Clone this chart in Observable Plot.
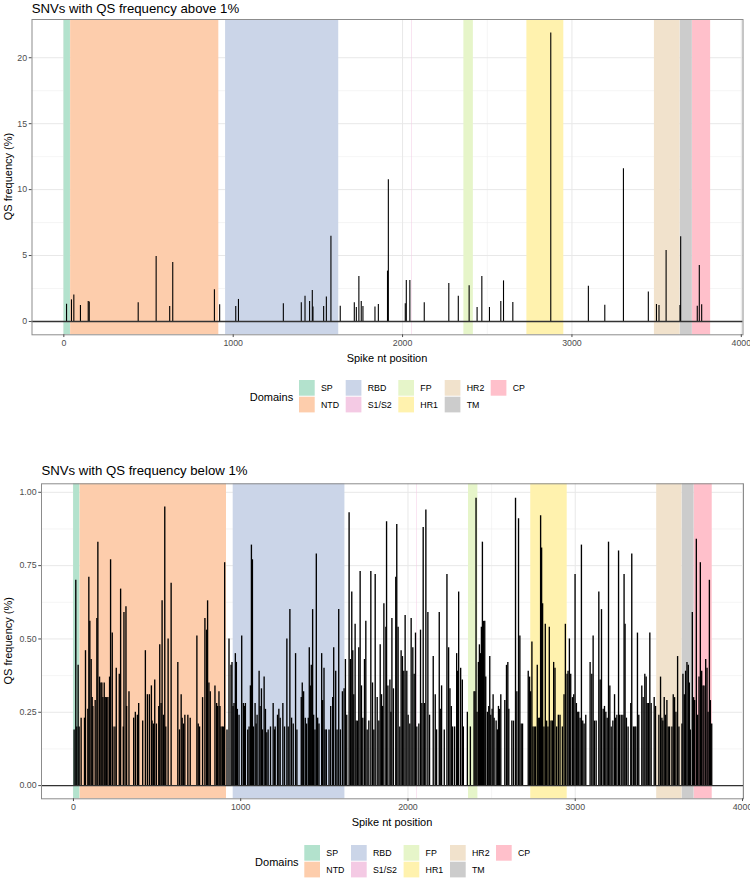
<!DOCTYPE html>
<html><head><meta charset="utf-8">
<script src="https://cdn.jsdelivr.net/npm/d3@7"></script>
<script src="https://cdn.jsdelivr.net/npm/@observablehq/plot@0.6"></script>
<style>
body{margin:0;background:#fff;}
#wrap{position:relative;width:750px;height:879px;background:#fff;overflow:hidden;}
#wrap > svg{position:absolute;left:0;margin:0;}
</style></head><body><div id="wrap"></div>
<script>
// ---------- DATA ----------
const domainNames  = ["SP", "NTD", "RBD", "S1/S2", "FP", "HR1", "HR2", "TM", "CP"];
const domainStart  = [1, 40, 955, 2054, 2362, 2734, 3487, 3640, 3712];
const domainEnd    = [39, 915, 1623, 2057, 2418, 2952, 3639, 3711, 3819];
const domainColors = ["#B3E2CD", "#FDCDAC", "#CBD5E8", "#F4CAE4", "#E6F5C9", "#FFF2AE", "#F1E2CC", "#CCCCCC", "#FFC0CB"];

const xTickValues = [0, 1000, 2000, 3000, 4000];
const xMinorValues = [500, 1500, 2500, 3500];
const yTicksAbove = [0, 5, 10, 15, 20];
const yMinorAbove = [2.5, 7.5, 12.5, 17.5];
const yTicksBelow = [0, 0.25, 0.5, 0.75, 1.0];
const yMinorBelow = [0.125, 0.375, 0.625, 0.875];

// SNVs above 1%
const highPos = [16,45,59,98,144,150,439,545,625,643,
  889,920,1015,1031,1296,1402,1424,1451,1467,1471,
  1534,1550,1577,1632,1715,1727,1742,1756,1766,1837,
  1857,1911,1916,2016,2022,2043,2128,2273,2329,2393,
  2440,2468,2513,2580,2596,2651,2875,3097,3194,3304,
  3451,3499,3514,3556,3638,3642,3740,3752,3766];
const highFreq = [1.31,1.64,2.0,1.21,1.52,1.47,1.42,4.93,1.14,4.48,
  2.40,1.26,1.14,1.67,1.34,1.42,1.92,1.52,2.35,1.09,
  1.14,1.85,6.47,1.16,1.42,1.06,3.41,1.52,1.14,1.09,
  1.29,3.82,10.75,1.34,3.11,3.11,1.42,2.88,1.92,2.71,
  1.06,3.41,1.06,1.52,3.08,1.44,21.87,2.68,1.24,11.58,
  2.23,1.29,1.21,5.39,1.21,6.42,1.16,4.25,1.26];

// SNVs below 1%
const lowPos = [
4,14,20,28,34,46,66,72,86,92,
98,106,112,116,130,140,146,156,164,170,
176,184,190,198,206,216,222,232,236,248,
256,274,282,298,302,314,318,332,360,370,
382,390,414,430,442,454,466,470,478,486,
496,510,516,524,530,538,546,552,566,584,
624,634,644,650,658,666,684,698,738,746,
754,772,786,796,802,810,818,846,856,862,
870,876,882,890,896,904,918,930,942,948,
954,960,968,974,980,990,1006,1016,1022,1028,
1042,1050,1058,1064,1070,1076,1086,1092,1098,1110,
1116,1124,1130,1140,1148,1156,1164,1178,1194,1202,
1206,1220,1228,1236,1252,1262,1276,1284,1294,1304,
1314,1328,1336,1362,1368,1376,1386,1394,1404,1410,
1416,1422,1430,1436,1444,1452,1460,1468,1484,1490,
1498,1504,1512,1528,1538,1550,1556,1568,1576,1586,
1596,1608,1618,1626,1634,1648,1656,1664,1670,1676,
1684,1690,1698,1706,1714,1722,1730,1740,1748,1756,
1766,1778,1788,1796,1804,1816,1826,1834,1842,1848,
1856,1868,1872,1880,1892,1898,1904,1913,1927,1933,
1941,1951,1959,1967,1975,1983,1993,2001,2011,2019,
2029,2037,2045,2053,2065,2075,2083,2091,2099,2107,
2119,2129,2151,2163,2171,2187,2193,2201,2217,2233,
2243,2251,2259,2267,2279,2291,2297,2303,2315,2325,
2331,2355,2373,2395,2401,2407,2413,2421,2427,2433,
2439,2445,2451,2459,2465,2475,2483,2489,2495,2503,
2509,2515,2527,2535,2541,2547,2555,2579,2589,2597,
2603,2621,2631,2643,2651,2661,2669,2677,2685,2719,
2727,2733,2741,2747,2755,2763,2773,2779,2787,2793,
2799,2805,2813,2821,2829,2837,2845,2855,2863,2871,
2879,2889,2899,2909,2923,2933,2941,2951,2957,2965,
2973,2983,2991,2999,3007,3015,3021,3029,3037,3045,
3053,3063,3089,3099,3107,3115,3125,3141,3149,3157,
3167,3175,3183,3191,3199,3207,3215,3225,3235,3241,
3249,3259,3265,3275,3285,3292,3298,3306,3316,3332,
3338,3348,3356,3362,3372,3380,3398,3406,3416,3424,
3430,3438,3446,3454,3472,3480,3500,3510,3518,3524,
3532,3540,3548,3556,3564,3578,3586,3594,3602,3612,
3620,3638,3644,3652,3660,3668,3676,3682,3688,3700,
3708,3714,3724,3732,3740,3748,3756,3764,3770,3780,
3788,3794,3802,3808,3816];
const lowFreq = [
.19,.70,.20,.41,.20,.23,.23,.46,.26,.71,
.56,.43,.30,.27,.29,.57,.83,.37,.35,.35,
.30,.35,.30,.30,.30,.37,.77,.52,.20,.20,
.40,.38,.67,.20,.59,.61,.27,.32,.23,.25,
.24,.28,.22,.46,.31,.31,.34,.22,.21,.36,
.21,.27,.48,.28,.63,.24,.95,.20,.50,.69,
.42,.19,.31,.23,.21,.24,.24,.23,.51,.21,
.20,.30,.57,.53,.63,.35,.32,.34,.28,.27,
.32,.27,.20,.20,.20,.76,.19,.50,.41,.42,
.27,.28,.45,.42,.26,.24,.51,.28,.27,.28,
.19,.20,.34,.82,.77,.20,.28,.21,.24,.39,
.27,.33,.19,.37,.26,.18,.19,.20,.28,.19,
.20,.24,.26,.23,.28,.20,.50,.20,.60,.23,
.21,.45,.19,.30,.35,.32,.23,.21,.23,.47,
.34,.41,.60,.24,.19,.79,.23,.21,.45,.29,
.40,.19,.19,.19,.27,.30,.47,.39,.19,.60,
.19,.32,.33,.43,.24,.93,.43,.66,.46,.31,
.55,.22,.22,.47,.73,.34,.23,.43,.56,.19,
.22,.73,.35,.19,.72,.30,.22,.48,.31,.27,
.62,.54,.90,.34,.36,.25,.57,.33,.71,.89,
.54,.20,.46,.44,.39,.58,.39,.24,.21,.57,
.47,.38,.52,.20,.21,.53,.28,.88,.28,.94,
.59,.24,.44,.31,.19,.59,.26,.34,.19,.72,
.47,.33,.27,.20,.20,.45,.39,.66,.40,.36,
.20,.25,.20,.32,.32,.98,.25,.42,.48,.45,
.54,.83,.56,.56,.37,.25,.27,.44,.24,.26,
.31,.23,.22,.19,.27,.26,.31,.29,.41,.42,
.26,.22,.22,.98,.32,.91,.51,.21,.21,.39,
.37,.32,.49,.20,.20,.20,.41,.23,.23,.92,
.81,.62,.20,.55,.22,.20,.54,.22,.22,.42,
.40,.20,.24,.24,.20,.31,.55,.38,.39,.50,
.38,.30,.31,.72,.28,.25,.25,.23,.82,.22,
.21,.24,.42,.38,.51,.22,.22,.66,.36,.60,
.26,.27,.25,.23,.83,.34,.20,.22,.31,.23,
.24,.80,.24,.24,.24,.72,.55,.23,.20,.28,
.79,.20,.20,.20,.52,.24,.34,.30,.38,.37,
.28,.28,.52,.28,.30,.27,.24,.37,.23,.22,
.30,.24,.29,.20,.20,.20,.31,.30,.25,.44,
.20,.21,.38,.31,.39,.42,.41,.35,.19,.59,
.30,.29,.84,.24,.37,.76,.39,.34,.34,.43,
.40,.25,.70,.29,.21];

// ---------- BUILD ----------
const FONT = "'Liberation Sans', Arial, Helvetica, sans-serif";
const domains = domainNames.map((name, i) => ({name, start: domainStart[i], end: domainEnd[i]}));
const high = highPos.map((p, i) => ({pos: p, freq: highFreq[i]}));
const low = lowPos.map((p, i) => ({pos: p, freq: lowFreq[i]}));

function panel(o) {
  const svg = Plot.plot({
    width: 750, height: o.height,
    marginTop: o.mt, marginBottom: o.mb, marginLeft: o.ml, marginRight: o.mr,
    style: {fontFamily: FONT, fontSize: "8.8px", background: "transparent", color: "#4d4d4d", overflow: "visible"},
    x: {domain: o.xDomain},
    y: {domain: o.yDomain},
    color: {domain: domainNames, range: domainColors},
    marks: [
      Plot.ruleX(xMinorValues, {stroke: "#f0f0f0", strokeWidth: 0.7}),
      Plot.ruleY(o.yMinor, {stroke: "#f0f0f0", strokeWidth: 0.7}),
      Plot.ruleX(xTickValues, {stroke: "#e8e8e8", strokeWidth: 1}),
      Plot.ruleY(o.yTicks, {stroke: "#e8e8e8", strokeWidth: 1}),
      Plot.rect(domains, {x1: "start", x2: "end", fill: "name"}),
      Plot.ruleX(o.data, {x: "pos", y1: 0, y2: "freq", stroke: "black", strokeWidth: o.barWidth}),
      Plot.ruleY([0], {stroke: "#333", strokeWidth: 1.3}),
      Plot.frame({stroke: "#8c8c8c", strokeWidth: 1}),
      Plot.axisX(xTickValues, {tickSize: 2.75, tickPadding: 2.2, label: null, tickFormat: d => String(d)}),
      Plot.axisY(o.yTicks, {tickSize: 2.75, tickPadding: 2.2, label: null, tickFormat: o.yFormat})
    ]
  });
  svg.style.top = o.top + "px";
  document.getElementById("wrap").appendChild(svg);
}

panel({data: high, barWidth: 1.1, top: 0, height: 350, mt: 19, mb: 15.7, ml: 31.5, mr: 7.5,
  xDomain: [-188, 4010], yDomain: [-1.01, 22.9], yTicks: yTicksAbove, yMinor: yMinorAbove, yFormat: d => String(d)});
panel({data: low, barWidth: 1.35, top: 460, height: 355, mt: 23.3, mb: 16.7, ml: 41, mr: 7,
  xDomain: [-191, 4006], yDomain: [-0.045, 1.029], yTicks: yTicksBelow, yMinor: yMinorBelow, yFormat: d3.format(".2f")});

// ---------- TEXT & LEGENDS ----------
const ov = d3.select("#wrap").append("svg")
  .attr("width", 750).attr("height", 879)
  .style("top", "0px").style("font-family", FONT);

function block(o) {
  ov.append("text").attr("x", o.titleX).attr("y", o.titleY).attr("font-size", 13.2).attr("fill", "black").text(o.title);
  ov.append("text").attr("x", o.axisX).attr("y", o.axisY).attr("font-size", 11).attr("fill", "black")
    .attr("text-anchor", "middle").text("Spike nt position");
  ov.append("text").attr("transform", `translate(${o.yLabX},${o.yLabY}) rotate(-90)`).attr("font-size", 11)
    .attr("fill", "black").attr("text-anchor", "middle").text("QS frequency (%)");
  const colOff = [0, 46.7, 99.3, 145.7, 191.7];
  const key = 15.7, gap = 16.7;
  ov.append("text").attr("x", o.legX - 5.8).attr("y", o.legY + gap + 3.9).attr("font-size", 11)
    .attr("fill", "black").attr("text-anchor", "end").text("Domains");
  domainNames.forEach((name, i) => {
    const c = Math.floor(i / 2), r = i % 2;
    const x = o.legX + colOff[c], y = o.legY + r * gap;
    ov.append("rect").attr("x", x).attr("y", y).attr("width", key).attr("height", key).attr("fill", domainColors[i]);
    ov.append("text").attr("x", x + key + 6.3).attr("y", y + key / 2 + 3.2).attr("font-size", 8.8)
      .attr("fill", "black").text(name);
  });
}
block({title: "SNVs with QS frequency above 1%", titleX: 31.7, titleY: 12.7,
  axisX: 387, axisY: 361.5, yLabX: 11.7, yLabY: 176.5, legX: 299, legY: 380});
block({title: "SNVs with QS frequency below 1%", titleX: 41.5, titleY: 474.5,
  axisX: 392, axisY: 825.7, yLabX: 11.7, yLabY: 640.8, legX: 304.3, legY: 845});
</script></body></html>
